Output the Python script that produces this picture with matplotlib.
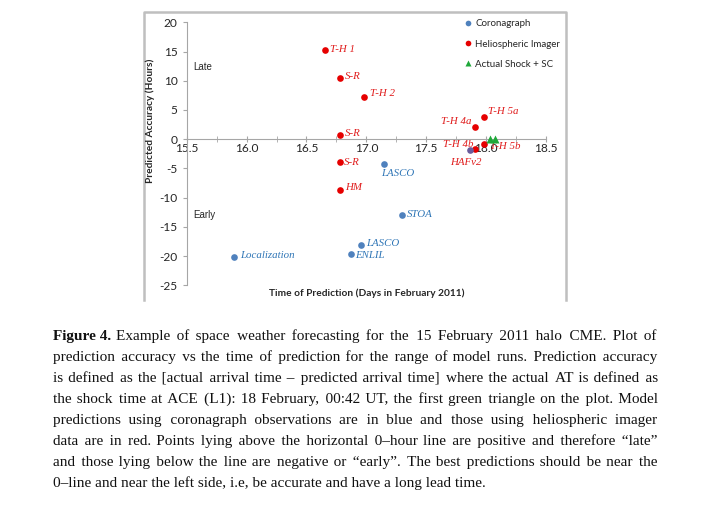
import matplotlib
matplotlib.use("Agg")
import matplotlib.pyplot as plt
from matplotlib.lines import Line2D
import numpy as np

# ---------------- data ----------------
coro_x = [17.147, 17.295, 16.952, 16.869, 15.895]
coro_y = [-4.2, -12.96, -18.1, -19.6, -20.15]
coro_labels = ["LASCO", "STOA", "LASCO", "ENLIL", "Localization"]

hi_x = [16.657, 16.78, 16.977, 16.78, 16.78, 16.78, 17.907, 17.984, 17.907, 17.984]
hi_y = [15.3, 10.4, 7.3, 0.74, -3.94, -8.7, 2.05, 3.8, -1.6, -0.8]
hi_labels = ["T-H 1", "S-R", "T-H 2", "S-R", "S-R", "HM", "T-H 4a", "T-H 5a", "T-H 4b", "T-H 5b"]

hafv2_x = [17.865]
hafv2_y = [-1.8]
hafv2_labels = ["HAFv2"]

shock_x = [18.03, 18.07]
shock_y = [0.0, 0.0]

series_names = ["Coronagraph", "Heliospheric Imager", "Actual Shock + SC"]

xticks = [15.5, 16.0, 16.5, 17.0, 17.5, 18.0, 18.5]
yticks = [-25, -20, -15, -10, -5, 0, 5, 10, 15, 20]

caption_bold = "Figure 4."
caption_lines = [
    "Example of space weather forecasting for the 15 February 2011 halo CME. Plot of",
    "prediction accuracy vs the time of prediction for the range of model runs. Prediction accuracy",
    "is defined as the [actual arrival time \u2013 predicted arrival time] where the actual AT is defined as",
    "the shock time at ACE (L1): 18 February, 00:42 UT, the first green triangle on the plot. Model",
    "predictions using coronagraph observations are in blue and those using heliospheric imager",
    "data are in red. Points lying above the horizontal 0\u2013hour line are positive and therefore \u201clate\u201d",
    "and those lying below the line are negative or \u201cearly\u201d. The best predictions should be near the",
    "0\u2013line and near the left side, i.e, be accurate and have a long lead time.",
]

# ---------------- layout / style ----------------
hi_offsets = [(3.5, 0, "left"), (3.5, 1.5, "left"), (4.5, 2, "left"), (3.5, 1, "left"),
              (3, 0, "left"), (3.5, 2, "left"), (-2.5, 4, "right"), (2.5, 4, "left"),
              (-1, 3, "right"), (4, -2, "left")]
coro_offsets = [(-2, -7, "left"), (3.5, 0, "left"), (4, 1, "left"), (3, -1, "left"), (4.5, 1, "left")]
hafv2_offsets = [(-3, -9, "center")]

W, H = 705, 511
BLUE = "#4F81BD"
BLUE_TXT = "#2E75B6"
RED = "#E60000"
RED_TXT = "#E01B1B"
GREEN = "#1FA83A"
PURPLE = "#6A5C9C"
GRAY = "#A6A6A6"
TXT = "#262626"
SANS = ["Lato", "DejaVu Sans"]
SERIF = ["Liberation Serif", "DejaVu Serif"]

fig = plt.figure(figsize=(W / 100, H / 100), dpi=100)
fig.patch.set_facecolor("white")


def fx(px):
    return px / W


def fy(py):
    return 1 - py / H


# chart border (top, left, right)
fig.add_artist(Line2D([fx(143.5), fx(143.5), fx(565.5), fx(565.5)],
                      [fy(300), fy(12), fy(12), fy(300)],
                      transform=fig.transFigure, color="#BFBFBF", lw=1.8))

x0, x1, y0, y1 = 186.7, 546.0, 22.3, 285.3
ax = fig.add_axes([fx(x0), fy(y1), (x1 - x0) / W, (y1 - y0) / H])
ax.patch.set_alpha(0)
ax.set_xlim(15.5, 18.5)
ax.set_ylim(-25, 20)

for s in ["top", "right"]:
    ax.spines[s].set_visible(False)
ax.spines["bottom"].set_position(("data", 0))
for s in ["left", "bottom"]:
    ax.spines[s].set_color(GRAY)
    ax.spines[s].set_linewidth(0.8)

ax.set_xticks(xticks)
ax.set_xticklabels([f"{v:.1f}" for v in xticks], family=SANS, fontsize=8.6, color=TXT)
ax.set_xticks(np.arange(15.75, 18.5, 0.5), minor=True)
ax.set_yticks(yticks)
ax.set_yticklabels([str(v) for v in yticks], family=SANS, fontsize=8.6, color=TXT)
ax.tick_params(axis="x", which="major", direction="inout", length=5, color=GRAY, pad=0.3)
ax.tick_params(axis="x", which="minor", direction="inout", length=4, color=GRAY)
ax.tick_params(axis="y", which="major", direction="out", length=3, color=GRAY, pad=3.5)

# series
ax.plot(coro_x, coro_y, "o", color=BLUE, ms=4.8, mec="none", label=series_names[0], zorder=3)
ax.plot(hi_x, hi_y, "o", color=RED, ms=4.8, mec="none", label=series_names[1], zorder=3)
ax.plot(hafv2_x, hafv2_y, "o", color=PURPLE, ms=4.8, mec="none", zorder=3)
ax.plot(shock_x, shock_y, "^", color=GREEN, ms=5.5, mec="none", label=series_names[2], zorder=5)

lab_kw = dict(textcoords="offset points", family=SERIF, style="italic", fontsize=7.8,
              va="center", zorder=4)
for xv, yv, t, (dx, dy, ha) in zip(hi_x, hi_y, hi_labels, hi_offsets):
    ax.annotate(t, (xv, yv), xytext=(dx, dy), ha=ha, color=RED_TXT, **lab_kw)
for xv, yv, t, (dx, dy, ha) in zip(hafv2_x, hafv2_y, hafv2_labels, hafv2_offsets):
    ax.annotate(t, (xv, yv), xytext=(dx, dy), ha=ha, color=RED_TXT, **lab_kw)
for xv, yv, t, (dx, dy, ha) in zip(coro_x, coro_y, coro_labels, coro_offsets):
    ax.annotate(t, (xv, yv), xytext=(dx, dy), ha=ha, color=BLUE_TXT, **lab_kw)

leg = ax.legend(loc="upper left", bbox_to_anchor=(fx(459.5), fy(14.5)),
                bbox_transform=fig.transFigure, frameon=False, borderpad=0,
                handlelength=0.8, handletextpad=0.3, labelspacing=1.15,
                prop={"family": SANS, "size": 7}, markerscale=0.85)
for t in leg.get_texts():
    t.set_color(TXT)

fig.text(fx(193), fy(66.7), "Late", family=["Liberation Sans"], fontsize=7, color=TXT,
         ha="left", va="center")
fig.text(fx(193), fy(215), "Early", family=["Liberation Sans"], fontsize=7, color=TXT,
         ha="left", va="center")
fig.text(fx(150), fy(121), "Predicted Accuracy (Hours)", rotation=90, family=SANS,
         weight="bold", fontsize=7.3, color=TXT, ha="center", va="center")
fig.text(fx(366.7), fy(293), "Time of Prediction (Days in February 2011)", family=SANS,
         weight="bold", fontsize=7.3, color=TXT, ha="center", va="center")

# ---------------- caption (justified, one text per line) ----------------
renderer = fig.canvas.get_renderer()
left_px, right_px = 52.7, 656.7
target = right_px - left_px
base0, step = 340.0, 21.05
HAIR = "\u200a"


def width(s, size, weight="normal"):
    t = fig.text(0, 0, s, family=SERIF, fontsize=size, weight=weight)
    bb = t.get_window_extent(renderer)
    t.remove()
    return bb.width


def space_w(ch, size):
    return (width("a" + ch * 10 + "a", size) - width("aa", size)) / 10.0


size = 11.0
bold_w = width(caption_bold + " ", size, "bold")
for i, line in enumerate(caption_lines[:-1]):
    n = line.count(" ")
    avail = target - (width(caption_bold, size, "bold") + 6 if i == 0 else 0)
    natural = width(line, size) - n * space_w(" ", size) + n * 0.2 * size * 100 / 72
    if natural > avail:
        size = min(size, size * avail / natural)

sp = space_w(" ", size)
hw = space_w(HAIR, size)

for i, line in enumerate(caption_lines):
    yb = base0 + i * step
    xstart = left_px
    avail = target
    if i == 0:
        fig.text(fx(left_px), fy(yb), caption_bold, family=SERIF, fontsize=size,
                 weight="bold", color="#111111", ha="left", va="baseline")
        bw = width(caption_bold, size, "bold")
        xstart = left_px + bw + 0.35 * size * 100 / 72
        avail = right_px - xstart
    words = line.split(" ")
    if i < len(caption_lines) - 1:
        S = width(line, size) - (len(words) - 1) * sp
        g = (avail - S) / (len(words) - 1)
        out = words[0]
        err = 0.0
        for w in words[1:]:
            want = g + err
            if want >= sp:
                m = int(round((want - sp) / hw))
                gap = " " + HAIR * m
                got = sp + m * hw
            else:
                m = max(int(round(want / hw)), 1)
                gap = HAIR * m
                got = m * hw
            err = want - got
            out += gap + w
    else:
        out = line
    fig.text(fx(xstart), fy(yb), out, family=SERIF, fontsize=size,
             color="#111111", ha="left", va="baseline")

fig.savefig("out.png", dpi=100, facecolor="white")
